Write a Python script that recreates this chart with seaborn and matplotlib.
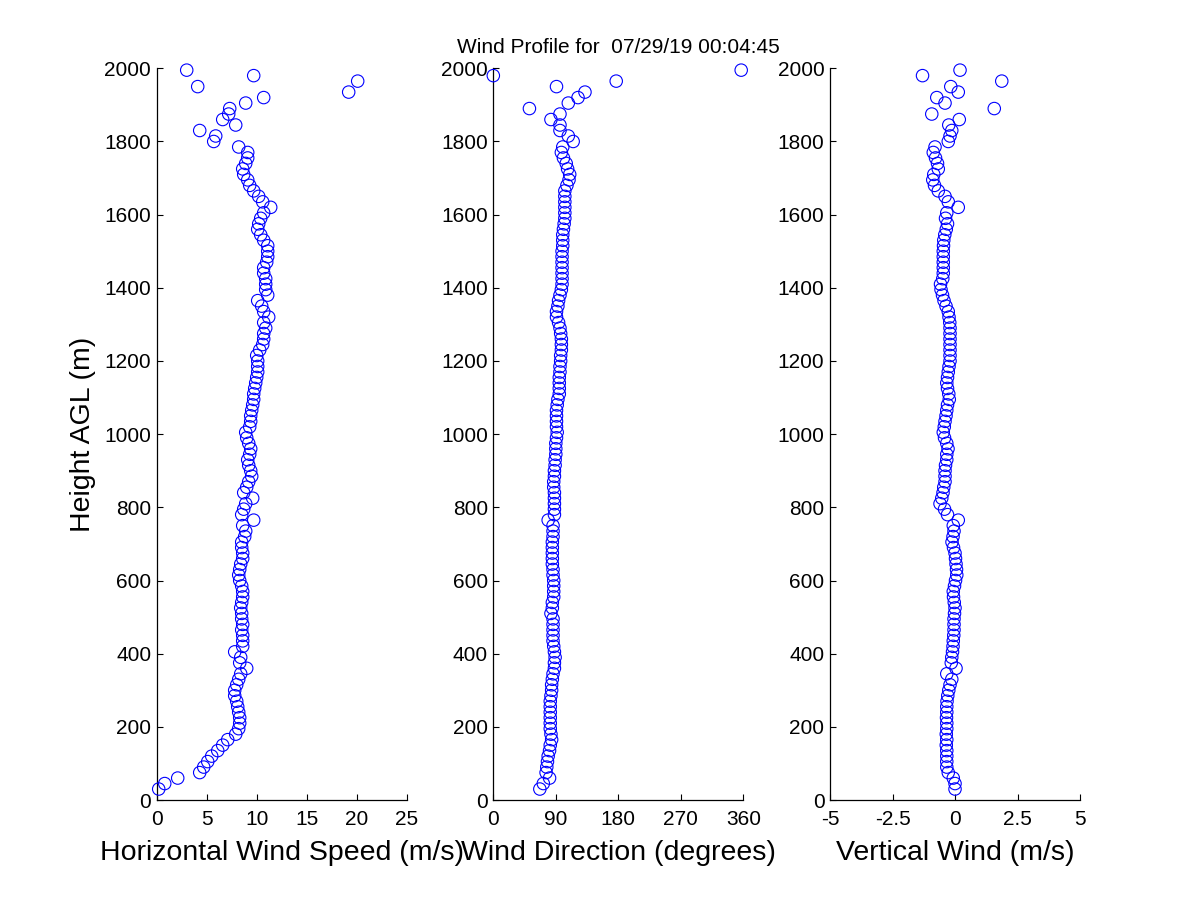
import matplotlib
matplotlib.use("Agg")
import matplotlib.pyplot as plt
import seaborn as sns

# range gates (m AGL)
heights = [
    30, 45, 60, 75, 90, 105, 120, 135, 150, 165, 180, 195,
    210, 225, 240, 255, 270, 285, 300, 315, 330, 345, 360, 375,
    390, 405, 420, 435, 450, 465, 480, 495, 510, 525, 540, 555,
    570, 585, 600, 615, 630, 645, 660, 675, 690, 705, 720, 735,
    750, 765, 780, 795, 810, 825, 840, 855, 870, 885, 900, 915,
    930, 945, 960, 975, 990, 1005, 1020, 1035, 1050, 1065, 1080, 1095,
    1110, 1125, 1140, 1155, 1170, 1185, 1200, 1215, 1230, 1245, 1260, 1275,
    1290, 1305, 1320, 1335, 1350, 1365, 1380, 1395, 1410, 1425, 1440, 1455,
    1470, 1485, 1500, 1515, 1530, 1545, 1560, 1575, 1590, 1605, 1620, 1635,
    1650, 1665, 1680, 1695, 1710, 1725, 1740, 1755, 1770, 1785, 1800, 1815,
    1830, 1845, 1860, 1875, 1890, 1905, 1920, 1935, 1950, 1965, 1980, 1995,
]

# horizontal wind speed (m/s)
wind_speed = [
    0.2, 0.8, 2.1, 4.3, 4.7, 5.1, 5.5, 6.1, 6.6, 7.1, 7.9, 8.2,
    8.3, 8.3, 8.2, 8.1, 8.0, 7.8, 7.8, 8.0, 8.2, 8.4, 9.0, 8.3,
    8.4, 7.8, 8.6, 8.6, 8.6, 8.5, 8.6, 8.5, 8.5, 8.4, 8.5, 8.6,
    8.6, 8.5, 8.3, 8.2, 8.3, 8.4, 8.6, 8.6, 8.5, 8.5, 8.8, 8.9,
    8.6, 9.7, 8.5, 8.7, 8.9, 9.6, 8.7, 9.0, 9.2, 9.5, 9.4, 9.2,
    9.1, 9.3, 9.4, 9.2, 9.0, 8.9, 9.3, 9.4, 9.4, 9.5, 9.6, 9.7,
    9.7, 9.8, 9.9, 10.0, 10.1, 10.1, 10.1, 10.0, 10.3, 10.6, 10.7, 10.7,
    10.9, 10.7, 11.2, 10.7, 10.5, 10.1, 11.1, 10.9, 10.9, 10.9, 10.7, 10.7,
    11.0, 11.1, 11.1, 11.1, 10.7, 10.4, 10.1, 10.2, 10.4, 10.7, 11.4, 10.6,
    10.2, 9.7, 9.3, 9.1, 8.7, 8.6, 8.9, 9.1, 9.1, 8.2, 5.7, 5.9,
    4.3, 7.9, 6.6, 7.2, 7.3, 8.9, 10.7, 19.2, 4.1, 20.1, 9.7, 3.0,
]

# wind direction (degrees)
wind_dir = [
    67, 72, 81, 76, 77, 78, 79, 81, 82, 84, 83, 82,
    82, 82, 82, 82, 82, 83, 84, 84, 85, 86, 88, 88,
    89, 88, 87, 86, 86, 86, 86, 86, 83, 85, 85, 87,
    87, 87, 87, 86, 86, 85, 85, 85, 85, 85, 86, 86,
    86, 79, 88, 88, 88, 88, 88, 87, 87, 88, 88, 89,
    89, 90, 90, 90, 91, 92, 91, 91, 91, 91, 92, 93,
    95, 95, 95, 95, 96, 96, 97, 97, 98, 98, 98, 97,
    96, 94, 91, 91, 93, 94, 96, 98, 99, 99, 99, 99,
    99, 99, 99, 100, 100, 100, 101, 102, 103, 103, 103, 103,
    103, 103, 106, 109, 110, 107, 105, 101, 98, 100, 115, 108,
    96, 96, 83, 96, 52, 108, 122, 132, 91, 177, 0, 357,
]

# vertical wind (m/s)
vert_wind = [
    0.0, 0.0, -0.07, -0.27, -0.33, -0.33, -0.33, -0.33, -0.35, -0.33, -0.35, -0.33,
    -0.33, -0.34, -0.33, -0.33, -0.32, -0.29, -0.25, -0.2, -0.13, -0.33, 0.04, -0.15,
    -0.13, -0.1, -0.08, -0.07, -0.05, -0.04, -0.04, -0.04, -0.02, 0.0, -0.03, -0.06,
    -0.07, -0.02, 0.02, 0.07, 0.06, 0.04, 0.02, 0.0, -0.06, -0.12, -0.08, -0.04,
    -0.07, 0.13, -0.3, -0.42, -0.6, -0.53, -0.48, -0.45, -0.4, -0.4, -0.4, -0.38,
    -0.33, -0.33, -0.28, -0.33, -0.42, -0.47, -0.43, -0.4, -0.36, -0.33, -0.3, -0.23,
    -0.25, -0.3, -0.33, -0.3, -0.27, -0.24, -0.2, -0.2, -0.2, -0.2, -0.2, -0.2,
    -0.2, -0.21, -0.24, -0.27, -0.36, -0.44, -0.5, -0.56, -0.58, -0.49, -0.47, -0.47,
    -0.47, -0.47, -0.47, -0.46, -0.45, -0.41, -0.35, -0.3, -0.38, -0.33, 0.13, -0.27,
    -0.4, -0.67, -0.82, -0.89, -0.85, -0.67, -0.7, -0.78, -0.87, -0.8, -0.27, -0.2,
    -0.13, -0.25, 0.17, -0.93, 1.57, -0.4, -0.73, 0.13, -0.17, 1.87, -1.3, 0.2,
]

speed_ticks = [0, 5, 10, 15, 20, 25]
dir_ticks = [0, 90, 180, 270, 360]
vert_ticks = [-5, -2.5, 0, 2.5, 5]
vert_labels = ["-5", "-2.5", "0", "2.5", "5"]
height_ticks = [0, 200, 400, 600, 800, 1000, 1200, 1400, 1600, 1800, 2000]

sns.set_style("ticks")
plt.rcParams["font.family"] = ["Liberation Sans", "DejaVu Sans"]
plt.rcParams["xtick.direction"] = "in"
plt.rcParams["ytick.direction"] = "in"
plt.rcParams["text.color"] = "black"
plt.rcParams["axes.labelcolor"] = "black"
plt.rcParams["xtick.color"] = "black"
plt.rcParams["ytick.color"] = "black"

fig = plt.figure(figsize=(12, 9), dpi=100)
fig.patch.set_facecolor("white")

left_edges = [0.1306, 0.4111, 0.6917]
ax_w, ax_b, ax_h = 0.2083, 0.1111, 0.8130

panels = [
    (wind_speed, (0, 25), speed_ticks, None, "Horizontal Wind Speed (m/s)"),
    (wind_dir, (0, 360), dir_ticks, None, "Wind Direction (degrees)"),
    (vert_wind, (-5, 5), vert_ticks, vert_labels, "Vertical Wind (m/s)"),
]

axes = []
for i, (vals, xlim, xticks, xlabels, xlab) in enumerate(panels):
    ax = fig.add_axes([left_edges[i], ax_b, ax_w, ax_h])
    sns.scatterplot(x=vals, y=heights, ax=ax, marker="o", s=80,
                    facecolor="none", edgecolor="#0000ff", linewidth=0.8,
                    clip_on=False, legend=False, zorder=3)
    ax.set_xlim(*xlim)
    ax.set_ylim(0, 2000)
    ax.set_xticks(xticks)
    if xlabels is not None:
        ax.set_xticklabels(xlabels)
    ax.set_yticks(height_ticks)
    ax.tick_params(axis="both", labelsize=15, length=4, width=0.8,
                   colors="black", pad=4)
    ax.tick_params(axis="x", pad=7)
    ax.set_xlabel(xlab, fontsize=20.5, labelpad=8)
    ax.set_ylabel("")
    sns.despine(ax=ax)
    for sp in ("left", "bottom"):
        ax.spines[sp].set_linewidth(0.9)
        ax.spines[sp].set_color("black")
    ax.set_facecolor("white")
    axes.append(ax)

axes[0].set_ylabel("Height AGL (m)", fontsize=20.5, labelpad=6)
axes[1].set_title("Wind Profile for  07/29/19 00:04:45", fontsize=15, pad=11)

fig.savefig("out.png", dpi=100, facecolor="white")
